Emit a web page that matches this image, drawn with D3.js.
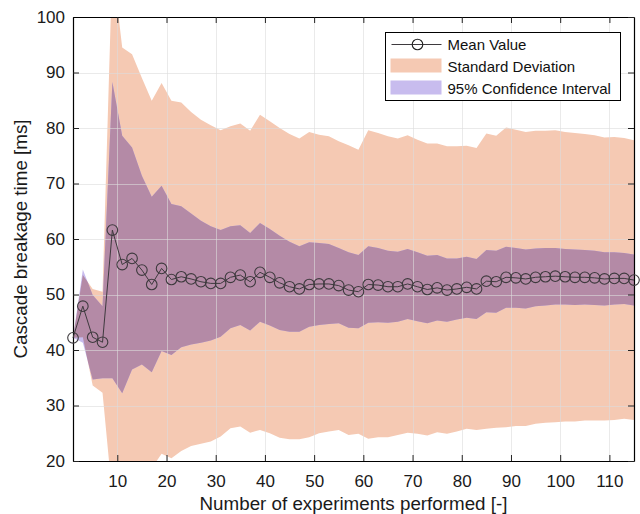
<!DOCTYPE html>
<html>
<head>
<meta charset="utf-8">
<script src="https://cdn.jsdelivr.net/npm/d3@7"></script>
<style>
  html, body { margin: 0; padding: 0; background: #fff; }
  svg { display: block; font-family: "Liberation Sans", Arial, sans-serif; }
</style>
</head>
<body>
<svg id="chart" width="640" height="514"></svg>
<script>
// Number of experiments (odd counts 1..115)
const experiments = d3.range(1, 116, 2);

// Running mean of the breakage time [ms]
const meanValues = [
  42.2, 47.9, 42.3, 41.4, 61.6, 55.4, 56.5, 54.4, 51.8, 54.7,
  52.7, 53.2, 52.8, 52.3, 52.0, 52.0, 53.1, 53.5, 52.3, 54.0,
  53.1, 52.1, 51.4, 51.0, 51.8, 51.9, 51.9, 51.6, 50.8, 50.5,
  51.8, 51.7, 51.4, 51.4, 51.9, 51.4, 50.9, 51.2, 50.8, 51.0,
  51.3, 51.0, 52.4, 52.3, 53.1, 53.0, 52.8, 53.1, 53.2, 53.3,
  53.2, 53.1, 53.1, 53.0, 52.8, 52.9, 52.9, 52.6
];

// Standard deviation [ms]
const stdDev = [
  0.0, 5.6, 8.7, 9.1, 48.0, 39.1, 36.8, 34.6, 33.1, 33.4,
  32.2, 31.4, 30.1, 29.2, 28.5, 27.6, 27.2, 27.3, 27.2, 28.4,
  28.1, 27.9, 27.5, 27.1, 27.5, 26.9, 26.6, 26.0, 26.1, 25.6,
  27.8, 27.4, 27.1, 26.7, 26.8, 26.5, 26.3, 26.0, 25.9, 25.7,
  25.5, 25.4, 26.6, 26.3, 27.0, 26.7, 26.5, 26.4, 26.3, 26.3,
  26.1, 26.0, 25.8, 25.7, 25.5, 25.5, 25.3, 25.2
];

// Half-width of the 95% confidence interval [ms]
const ciHalfWidth = [
  0.0, 6.6, 7.6, 6.5, 26.7, 23.2, 20.0, 17.0, 15.8, 14.9,
  13.6, 12.7, 11.8, 11.0, 10.3, 9.6, 9.2, 9.0, 8.8, 8.9,
  8.7, 8.5, 8.1, 7.7, 7.6, 7.4, 7.2, 6.8, 6.8, 6.6,
  6.9, 6.7, 6.5, 6.3, 6.3, 6.2, 6.1, 5.9, 5.7, 5.5,
  5.5, 5.4, 5.6, 5.6, 5.5, 5.4, 5.3, 5.2, 5.2, 5.1,
  5.0, 5.0, 4.9, 4.9, 4.8, 4.7, 4.6, 4.6
];

const xTicks = [10, 20, 30, 40, 50, 60, 70, 80, 90, 100, 110];
const yTicks = [20, 30, 40, 50, 60, 70, 80, 90, 100];

const legendLabels = ["Mean Value", "Standard Deviation", "95% Confidence Interval"];

const colors = {
  sd: "#f5c9b3",
  ci: "#c8bcee",
  overlap: "#b48aa6",
  line: "#3e3a3e",
  grid: "#dcdcdc"
};

const rows = experiments.map((n, i) => ({
  n, mean: meanValues[i], sd: stdDev[i], ci: ciHalfWidth[i]
}));

const margin = { top: 17, right: 6, bottom: 53, left: 73 };
const W = 640, H = 514;
const innerW = W - margin.left - margin.right;
const innerH = H - margin.top - margin.bottom;

const svg = d3.select("#chart");
const g = svg.append("g").attr("transform", `translate(${margin.left},${margin.top})`);

const x = d3.scaleLinear().domain([1, 115]).range([0, innerW]);
const y = d3.scaleLinear().domain([20, 100]).range([innerH, 0]);

const defs = svg.append("defs");
defs.append("clipPath").attr("id", "plot-clip")
  .append("rect").attr("width", innerW).attr("height", innerH);

const sdArea = d3.area().x(d => x(d.n)).y0(d => y(d.mean - d.sd)).y1(d => y(d.mean + d.sd));
const ciArea = d3.area().x(d => x(d.n)).y0(d => y(d.mean - d.ci)).y1(d => y(d.mean + d.ci));

defs.append("clipPath").attr("id", "sd-clip")
  .append("path").attr("d", sdArea(rows));

const bands = g.append("g").attr("clip-path", "url(#plot-clip)");
bands.append("path").attr("d", sdArea(rows)).attr("fill", colors.sd);
bands.append("path").attr("d", ciArea(rows)).attr("fill", colors.ci);
// where the confidence interval lies over the deviation band
bands.append("g").attr("clip-path", "url(#sd-clip)")
  .append("path").attr("d", ciArea(rows)).attr("fill", colors.overlap);

// grid on top of the bands
const grid = g.append("g").attr("stroke", colors.grid).attr("stroke-opacity", 0.6).attr("stroke-width", 1);
grid.selectAll(".gx").data(xTicks).join("line")
  .attr("x1", d => Math.round(x(d)) + 0.5).attr("x2", d => Math.round(x(d)) + 0.5)
  .attr("y1", 0).attr("y2", innerH);
grid.selectAll(".gy").data(yTicks.filter(v => v > 20 && v < 100)).join("line")
  .attr("y1", d => Math.round(y(d)) + 0.5).attr("y2", d => Math.round(y(d)) + 0.5)
  .attr("x1", 0).attr("x2", innerW);

// axes (ticks pointing inward, box around the plot)
const tickLen = 6;
const axisBottom = g.append("g").attr("transform", `translate(0,${innerH})`)
  .call(d3.axisBottom(x).tickValues(xTicks).tickSize(-tickLen).tickPadding(14).tickSizeOuter(0));
const axisLeft = g.append("g")
  .call(d3.axisLeft(y).tickValues(yTicks).tickSize(-tickLen).tickPadding(8).tickSizeOuter(0));
const axisTop = g.append("g")
  .call(d3.axisTop(x).tickValues(xTicks).tickSize(-tickLen).tickFormat("").tickSizeOuter(0));
const axisRight = g.append("g").attr("transform", `translate(${innerW},0)`)
  .call(d3.axisRight(y).tickValues(yTicks).tickSize(-tickLen).tickFormat("").tickSizeOuter(0));

[axisBottom, axisLeft, axisTop, axisRight].forEach(a => {
  a.select(".domain").attr("stroke", "#000").attr("stroke-width", 1.2);
  a.selectAll(".tick line").attr("stroke", "#222").attr("stroke-width", 1);
  a.selectAll("text").attr("fill", "#1a1a1a").style("font-size", "17px")
    .style("font-family", '"Liberation Sans", Arial, sans-serif');
});

// mean value line with circle markers
g.append("path").datum(rows)
  .attr("fill", "none").attr("stroke", colors.line).attr("stroke-width", 1)
  .attr("d", d3.line().x(d => x(d.n)).y(d => y(d.mean)));
g.append("g").selectAll("circle").data(rows).join("circle")
  .attr("cx", d => x(d.n)).attr("cy", d => y(d.mean)).attr("r", 5.3)
  .attr("fill", "none").attr("stroke", colors.line).attr("stroke-width", 1.1);

// axis titles
svg.append("text")
  .attr("x", margin.left + innerW / 2).attr("y", 510)
  .attr("text-anchor", "middle").style("font-size", "18.8px").attr("fill", "#1a1a1a")
  .text("Number of experiments performed [-]");
svg.append("text")
  .attr("transform", `translate(27,${margin.top + innerH / 2}) rotate(-90)`)
  .attr("text-anchor", "middle").style("font-size", "18.8px").attr("fill", "#1a1a1a")
  .text("Cascade breakage time [ms]");

// legend
const lg = svg.append("g").attr("transform", "translate(385.5,32.5)");
lg.append("rect").attr("width", 235).attr("height", 68)
  .attr("fill", "#fff").attr("stroke", "#000").attr("stroke-width", 1);
lg.append("line").attr("x1", 6).attr("x2", 56).attr("y1", 12).attr("y2", 12)
  .attr("stroke", colors.line).attr("stroke-width", 1);
lg.append("circle").attr("cx", 32).attr("cy", 12).attr("r", 5.3)
  .attr("fill", "none").attr("stroke", "#222").attr("stroke-width", 1.1);
lg.append("rect").attr("x", 5).attr("y", 26).attr("width", 51).attr("height", 14).attr("fill", colors.sd);
lg.append("rect").attr("x", 5).attr("y", 48).attr("width", 51).attr("height", 14).attr("fill", colors.ci);
lg.selectAll("text.lab").data(legendLabels).join("text")
  .attr("x", 62).attr("y", (d, i) => 17.5 + i * 22)
  .style("font-size", "15px").attr("fill", "#111")
  .text(d => d);
</script>
</body>
</html>
